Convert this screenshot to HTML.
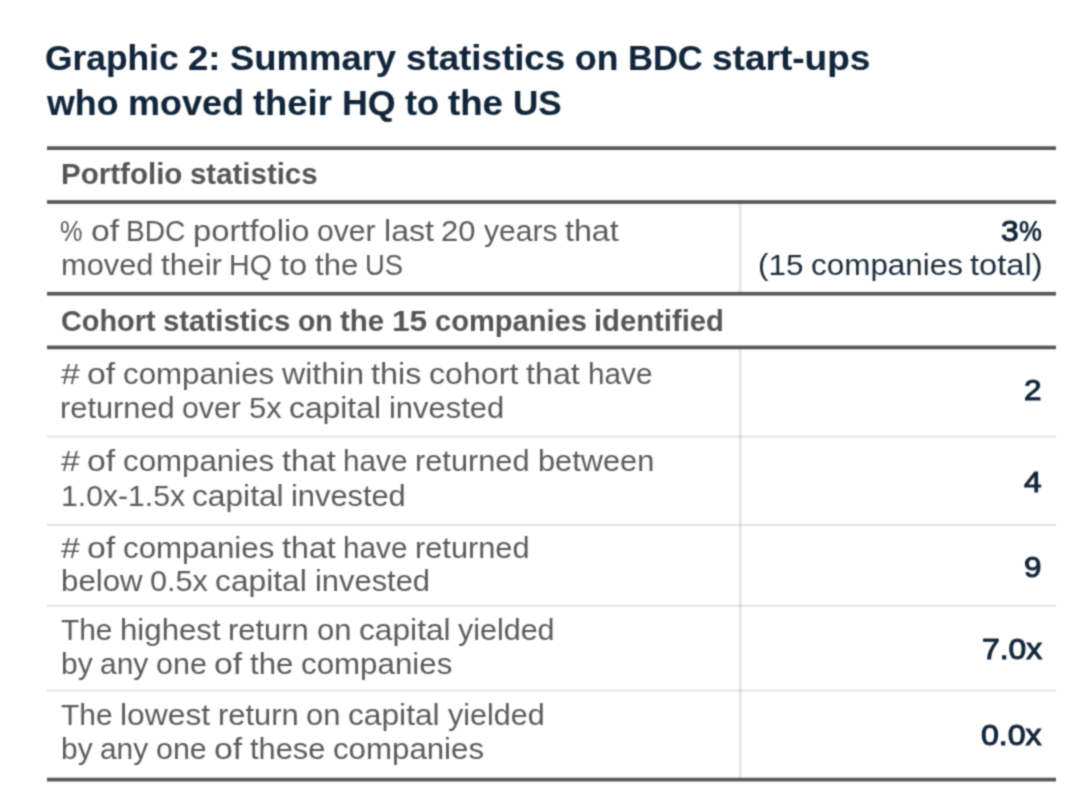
<!DOCTYPE html>
<html lang="en"><head><meta charset="utf-8"><title>Graphic 2: Summary statistics on BDC start-ups who moved their HQ to the US</title><style>
html,body{margin:0;padding:0;background:#fff;}
body{width:1080px;height:810px;position:relative;overflow:hidden;font-family:"Liberation Sans",sans-serif;}
#g{position:absolute;left:0;top:0;width:1080px;height:810px;filter:url(#soft);}
.t{position:absolute;left:0;white-space:nowrap;line-height:1;margin:0;}
.t span{position:absolute;top:0;transform-origin:0 0;display:block;}
.ln{position:absolute;}
</style></head><body><svg width="0" height="0" style="position:absolute" aria-hidden="true"><filter id="soft" x="0" y="0" width="100%" height="100%" color-interpolation-filters="sRGB"><feConvolveMatrix order="5" kernelMatrix="0.00009 0.00198 0.00548 0.00198 0.00009 0.00198 0.04220 0.11707 0.04220 0.00198 0.00548 0.11707 0.32480 0.11707 0.00548 0.00198 0.04220 0.11707 0.04220 0.00198 0.00009 0.00198 0.00548 0.00198 0.00009" divisor="1" bias="0" edgeMode="none" preserveAlpha="false"/></filter></svg><div id="g">
<div class="ln" style="left:46.7px;width:1009.3px;top:435px;height:3px;background:linear-gradient(to bottom,rgba(0,0,0,0.055) 0px 1px,rgba(0,0,0,0.110) 1px 2px,rgba(0,0,0,0.055) 2px 3px)"></div>
<div class="ln" style="left:46.7px;width:1009.3px;top:523px;height:3px;background:linear-gradient(to bottom,rgba(0,0,0,0.011) 0px 1px,rgba(0,0,0,0.110) 1px 2px,rgba(0,0,0,0.099) 2px 3px)"></div>
<div class="ln" style="left:46.7px;width:1009.3px;top:604px;height:3px;background:linear-gradient(to bottom,rgba(0,0,0,0.033) 0px 1px,rgba(0,0,0,0.110) 1px 2px,rgba(0,0,0,0.077) 2px 3px)"></div>
<div class="ln" style="left:46.7px;width:1009.3px;top:689px;height:3px;background:linear-gradient(to bottom,rgba(0,0,0,0.033) 0px 1px,rgba(0,0,0,0.110) 1px 2px,rgba(0,0,0,0.077) 2px 3px)"></div>
<div class="ln" style="left:738px;width:4px;top:203px;height:90px;background:linear-gradient(to right,rgba(0,0,0,0.027) 0px 1px,rgba(0,0,0,0.090) 1px 2px,rgba(0,0,0,0.090) 2px 3px,rgba(0,0,0,0.063) 3px 4px)"></div>
<div class="ln" style="left:738px;width:4px;top:348px;height:430px;background:linear-gradient(to right,rgba(0,0,0,0.027) 0px 1px,rgba(0,0,0,0.090) 1px 2px,rgba(0,0,0,0.090) 2px 3px,rgba(0,0,0,0.063) 3px 4px)"></div>
<div class="ln" style="left:46.7px;width:1009.3px;top:146px;height:4px;background:linear-gradient(to bottom,rgba(0,0,0,0.461) 0px 1px,rgba(0,0,0,0.659) 1px 2px,rgba(0,0,0,0.659) 2px 3px,rgba(0,0,0,0.659) 3px 4px)"></div>
<div class="ln" style="left:46.7px;width:1009.3px;top:200px;height:4px;background:linear-gradient(to bottom,rgba(0,0,0,0.560) 0px 1px,rgba(0,0,0,0.659) 1px 2px,rgba(0,0,0,0.659) 2px 3px,rgba(0,0,0,0.560) 3px 4px)"></div>
<div class="ln" style="left:46.7px;width:1009.3px;top:291px;height:5px;background:linear-gradient(to bottom,rgba(0,0,0,0.066) 0px 1px,rgba(0,0,0,0.659) 1px 2px,rgba(0,0,0,0.659) 2px 3px,rgba(0,0,0,0.659) 3px 4px,rgba(0,0,0,0.395) 4px 5px)"></div>
<div class="ln" style="left:46.7px;width:1009.3px;top:345px;height:5px;background:linear-gradient(to bottom,rgba(0,0,0,0.296) 0px 1px,rgba(0,0,0,0.659) 1px 2px,rgba(0,0,0,0.659) 2px 3px,rgba(0,0,0,0.659) 3px 4px,rgba(0,0,0,0.165) 4px 5px)"></div>
<div class="ln" style="left:46.7px;width:1009.3px;top:777px;height:5px;background:linear-gradient(to bottom,rgba(0,0,0,0.165) 0px 1px,rgba(0,0,0,0.659) 1px 2px,rgba(0,0,0,0.659) 2px 3px,rgba(0,0,0,0.659) 3px 4px,rgba(0,0,0,0.296) 4px 5px)"></div>
<div class="t" style="top:41.08px;font-size:35.7px;font-weight:700;color:#11253a;-webkit-text-stroke:0.12px #11253a;"><span style="left:45.00px;transform:scaleX(0.9903);">Graphic</span> <span style="left:188.15px;transform:scaleX(1.0258);">2:</span> <span style="left:230.30px;transform:scaleX(1.0213);">Summary</span> <span style="left:406.01px;transform:scaleX(1.0289);">statistics</span> <span style="left:574.81px;transform:scaleX(0.9946);">on</span> <span style="left:627.78px;transform:scaleX(0.9675);">BDC</span> <span style="left:712.19px;transform:scaleX(1.0377);">start-ups</span></div>
<div class="t" style="top:86.38px;font-size:35.7px;font-weight:700;color:#11253a;-webkit-text-stroke:0.12px #11253a;"><span style="left:46.50px;transform:scaleX(1.0021);">who</span> <span style="left:127.57px;transform:scaleX(1.0091);">moved</span> <span style="left:253.19px;transform:scaleX(1.0186);">their</span> <span style="left:341.53px;transform:scaleX(1.0025);">HQ</span> <span style="left:404.75px;transform:scaleX(1.0139);">to</span> <span style="left:448.46px;transform:scaleX(1.0275);">the</span> <span style="left:513.01px;transform:scaleX(0.9813);">US</span></div>
<div class="t" style="top:160.11px;font-size:28.7px;font-weight:700;color:#555555;"><span style="left:60.50px;transform:scaleX(1.0297);">Portfolio</span> <span style="left:189.62px;transform:scaleX(1.0260);">statistics</span></div>
<div class="t" style="top:306.81px;font-size:28.7px;font-weight:700;color:#555555;"><span style="left:60.50px;transform:scaleX(1.0051);">Cohort</span> <span style="left:162.67px;transform:scaleX(1.0236);">statistics</span> <span style="left:297.65px;transform:scaleX(0.9892);">on</span> <span style="left:340.01px;transform:scaleX(1.0265);">the</span> <span style="left:391.85px;transform:scaleX(1.1038);">15</span> <span style="left:434.77px;transform:scaleX(1.0136);">companies</span> <span style="left:594.36px;transform:scaleX(1.0190);">identified</span></div>
<div class="t" style="top:217.11px;font-size:28.7px;font-weight:400;color:#5a5a5a;"><span style="left:60.39px;transform:scaleX(0.8814);">%</span> <span style="left:90.50px;transform:scaleX(1.1777);">of</span> <span style="left:126.32px;transform:scaleX(0.9782);">BDC</span> <span style="left:193.20px;transform:scaleX(1.1422);">portfolio</span> <span style="left:317.40px;transform:scaleX(1.0509);">over</span> <span style="left:383.68px;transform:scaleX(1.1210);">last</span> <span style="left:441.36px;transform:scaleX(1.0811);">20</span> <span style="left:483.50px;transform:scaleX(1.0487);">years</span> <span style="left:564.69px;transform:scaleX(1.1222);">that</span></div>
<div class="t" style="top:250.91px;font-size:28.7px;font-weight:400;color:#5a5a5a;"><span style="left:60.50px;transform:scaleX(1.0731);">moved</span> <span style="left:160.52px;transform:scaleX(1.0940);">their</span> <span style="left:229.20px;transform:scaleX(0.9989);">HQ</span> <span style="left:279.80px;transform:scaleX(1.1376);">to</span> <span style="left:314.65px;transform:scaleX(1.0830);">the</span> <span style="left:365.47px;transform:scaleX(0.9560);">US</span></div>
<div class="t" style="top:359.61px;font-size:28.7px;font-weight:400;color:#5a5a5a;"><span style="left:60.50px;transform:scaleX(1.1858);">#</span> <span style="left:87.07px;transform:scaleX(1.1792);">of</span> <span style="left:122.93px;transform:scaleX(1.0897);">companies</span> <span style="left:281.75px;transform:scaleX(1.1183);">within</span> <span style="left:371.40px;transform:scaleX(1.1270);">this</span> <span style="left:429.36px;transform:scaleX(1.1202);">cohort</span> <span style="left:526.32px;transform:scaleX(1.1236);">that</span> <span style="left:587.73px;transform:scaleX(1.0354);">have</span></div>
<div class="t" style="top:394.21px;font-size:28.7px;font-weight:400;color:#5a5a5a;"><span style="left:60.00px;transform:scaleX(1.0734);">returned</span> <span style="left:182.35px;transform:scaleX(1.0545);">over</span> <span style="left:248.85px;transform:scaleX(1.0754);">5x</span> <span style="left:289.10px;transform:scaleX(1.1091);">capital</span> <span style="left:388.74px;transform:scaleX(1.0784);">invested</span></div>
<div class="t" style="top:447.01px;font-size:28.7px;font-weight:400;color:#5a5a5a;"><span style="left:60.50px;transform:scaleX(1.1863);">#</span> <span style="left:87.08px;transform:scaleX(1.1798);">of</span> <span style="left:122.96px;transform:scaleX(1.0902);">companies</span> <span style="left:281.85px;transform:scaleX(1.1241);">that</span> <span style="left:343.29px;transform:scaleX(1.0359);">have</span> <span style="left:415.38px;transform:scaleX(1.0717);">returned</span> <span style="left:537.54px;transform:scaleX(1.0726);">between</span></div>
<div class="t" style="top:481.91px;font-size:28.7px;font-weight:400;color:#5a5a5a;"><span style="left:60.50px;transform:scaleX(1.0512);">1.0x-1.5x</span> <span style="left:192.16px;transform:scaleX(1.1045);">capital</span> <span style="left:291.38px;transform:scaleX(1.0739);">invested</span></div>
<div class="t" style="top:534.21px;font-size:28.7px;font-weight:400;color:#5a5a5a;"><span style="left:60.50px;transform:scaleX(1.1867);">#</span> <span style="left:87.09px;transform:scaleX(1.1801);">of</span> <span style="left:122.98px;transform:scaleX(1.0905);">companies</span> <span style="left:281.91px;transform:scaleX(1.1245);">that</span> <span style="left:343.37px;transform:scaleX(1.0362);">have</span> <span style="left:415.48px;transform:scaleX(1.0720);">returned</span></div>
<div class="t" style="top:566.71px;font-size:28.7px;font-weight:400;color:#5a5a5a;"><span style="left:60.50px;transform:scaleX(1.0894);">below</span> <span style="left:149.80px;transform:scaleX(1.0678);">0.5x</span> <span style="left:215.35px;transform:scaleX(1.1068);">capital</span> <span style="left:314.78px;transform:scaleX(1.0762);">invested</span></div>
<div class="t" style="top:616.11px;font-size:28.7px;font-weight:400;color:#5a5a5a;"><span style="left:61.00px;transform:scaleX(1.0414);">The</span> <span style="left:120.11px;transform:scaleX(1.0877);">highest</span> <span style="left:228.36px;transform:scaleX(1.0764);">return</span> <span style="left:316.66px;transform:scaleX(1.0794);">on</span> <span style="left:358.74px;transform:scaleX(1.1048);">capital</span> <span style="left:457.99px;transform:scaleX(1.0623);">yielded</span></div>
<div class="t" style="top:649.51px;font-size:28.7px;font-weight:400;color:#5a5a5a;"><span style="left:60.50px;transform:scaleX(1.0446);">by</span> <span style="left:99.80px;transform:scaleX(1.0436);">any</span> <span style="left:155.72px;transform:scaleX(1.0621);">one</span> <span style="left:214.21px;transform:scaleX(1.1800);">of</span> <span style="left:250.10px;transform:scaleX(1.0861);">the</span> <span style="left:301.06px;transform:scaleX(1.0904);">companies</span></div>
<div class="t" style="top:701.31px;font-size:28.7px;font-weight:400;color:#5a5a5a;"><span style="left:61.00px;transform:scaleX(1.0419);">The</span> <span style="left:120.13px;transform:scaleX(1.1093);">lowest</span> <span style="left:217.97px;transform:scaleX(1.0769);">return</span> <span style="left:306.31px;transform:scaleX(1.0800);">on</span> <span style="left:348.41px;transform:scaleX(1.1053);">capital</span> <span style="left:447.70px;transform:scaleX(1.0628);">yielded</span></div>
<div class="t" style="top:735.41px;font-size:28.7px;font-weight:400;color:#5a5a5a;"><span style="left:60.50px;transform:scaleX(1.0430);">by</span> <span style="left:99.74px;transform:scaleX(1.0420);">any</span> <span style="left:155.58px;transform:scaleX(1.0605);">one</span> <span style="left:213.98px;transform:scaleX(1.1782);">of</span> <span style="left:249.81px;transform:scaleX(1.0742);">these</span> <span style="left:332.83px;transform:scaleX(1.0888);">companies</span></div>
<div class="t" style="top:217.01px;font-size:28.7px;font-weight:400;color:#11253a;-webkit-text-stroke:1.00px #11253a;"><span style="left:1001.09px;transform:scaleX(1.1114);">3</span><span style="left:1018.84px;transform:scaleX(0.8985);font-weight:700;-webkit-text-stroke-width:0;">%</span></div>
<div class="t" style="top:250.71px;font-size:28.7px;font-weight:400;color:#1c2b3b;"><span style="left:757.50px;transform:scaleX(1.0933);">(15</span> <span style="left:810.52px;transform:scaleX(1.0958);">companies</span> <span style="left:970.22px;transform:scaleX(1.1390);">total)</span></div>
<div class="t" style="top:376.41px;font-size:28.7px;font-weight:400;color:#11253a;-webkit-text-stroke:1.00px #11253a;"><span style="left:1023.59px;transform:scaleX(1.0983);">2</span></div>
<div class="t" style="top:468.31px;font-size:28.7px;font-weight:400;color:#11253a;-webkit-text-stroke:1.00px #11253a;"><span style="left:1023.59px;transform:scaleX(1.0983);">4</span></div>
<div class="t" style="top:552.51px;font-size:28.7px;font-weight:400;color:#11253a;-webkit-text-stroke:1.00px #11253a;"><span style="left:1024.09px;transform:scaleX(1.0983);">9</span></div>
<div class="t" style="top:634.71px;font-size:28.7px;font-weight:400;color:#11253a;-webkit-text-stroke:1.00px #11253a;"><span style="left:981.80px;transform:scaleX(1.1110);">7.0x</span></div>
<div class="t" style="top:721.21px;font-size:28.7px;font-weight:400;color:#11253a;-webkit-text-stroke:1.00px #11253a;"><span style="left:980.50px;transform:scaleX(1.1188);">0.0x</span></div>
</div></body></html>
